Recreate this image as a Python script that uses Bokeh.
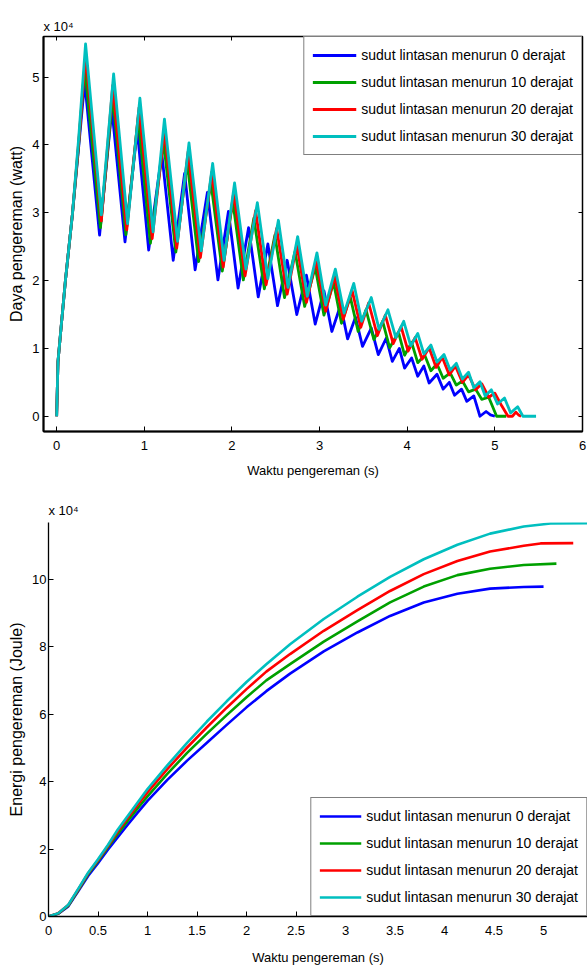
from bokeh.plotting import figure
from bokeh.models import Legend, LegendItem, LinearAxis, FixedTicker, Range1d
from bokeh.embed import file_html
from bokeh.resources import INLINE

FONT = "Liberation Sans"

series_labels = ["sudut lintasan menurun 0 derajat", "sudut lintasan menurun 10 derajat",
                 "sudut lintasan menurun 20 derajat", "sudut lintasan menurun 30 derajat"]
series_colors = ["#0000FF", "#00A000", "#FF0000", "#00BFBF"]

# ---- Top chart: braking power (x 10^4 watt) vs time (s) ----
power_t_0 = [0, 0.015, 0.05, 0.10, 0.18, 0.25, 0.32, 0.49, 0.63, 0.78, 0.92, 1.05, 1.20, 1.33, 1.46, 1.58, 1.72, 1.84,
             1.96, 2.07, 2.19, 2.30, 2.41, 2.52, 2.63, 2.74, 2.85, 2.95, 3.05, 3.14, 3.24, 3.32, 3.41, 3.49, 3.59, 3.67,
             3.76, 3.83, 3.91, 3.97, 4.05, 4.12, 4.19, 4.25, 4.34, 4.41, 4.48, 4.54, 4.62, 4.68, 4.76, 4.83, 4.90, 4.95, 5.00]
power_0 = [0, 0.80, 1.30, 2.00, 2.98, 3.95, 4.93, 2.67, 4.53, 2.57, 4.22, 2.45, 3.87, 2.30, 3.58, 2.16, 3.30, 2.01,
           3.02, 1.89, 2.78, 1.76, 2.54, 1.63, 2.30, 1.50, 2.08, 1.36, 1.85, 1.25, 1.64, 1.14, 1.46, 1.03, 1.30, 0.91,
           1.15, 0.81, 1.00, 0.71, 0.86, 0.59, 0.74, 0.49, 0.62, 0.40, 0.50, 0.31, 0.40, 0.22, 0.30, 0.0, 0.07, 0.02, 0.0]

power_t_10 = [0, 0.015, 0.05, 0.10, 0.18, 0.25, 0.32, 0.50, 0.64, 0.79, 0.93, 1.07, 1.22, 1.36, 1.49, 1.62, 1.76, 1.89,
              2.01, 2.13, 2.25, 2.37, 2.49, 2.60, 2.72, 2.83, 2.95, 3.05, 3.16, 3.25, 3.35, 3.44, 3.53, 3.62, 3.72, 3.80,
              3.90, 3.97, 4.05, 4.12, 4.20, 4.27, 4.34, 4.41, 4.49, 4.56, 4.63, 4.70, 4.78, 4.85, 4.93, 5.02, 5.13]
power_10 = [0, 0.80, 1.30, 2.00, 2.98, 3.98, 5.15, 2.78, 4.72, 2.68, 4.40, 2.55, 4.05, 2.42, 3.74, 2.28, 3.45, 2.14,
            3.17, 2.01, 2.92, 1.88, 2.67, 1.75, 2.43, 1.62, 2.20, 1.49, 1.97, 1.37, 1.76, 1.25, 1.57, 1.13, 1.40, 1.01,
            1.24, 0.90, 1.09, 0.79, 0.90, 0.67, 0.77, 0.56, 0.64, 0.46, 0.52, 0.36, 0.40, 0.25, 0.28, 0.0, 0.0]

power_t_20 = [0, 0.015, 0.05, 0.10, 0.18, 0.25, 0.33, 0.51, 0.64, 0.80, 0.94, 1.09, 1.23, 1.37, 1.50, 1.64, 1.77, 1.90,
              2.02, 2.15, 2.27, 2.39, 2.51, 2.63, 2.74, 2.85, 2.96, 3.07, 3.17, 3.27, 3.37, 3.47, 3.56, 3.66, 3.75, 3.84,
              3.93, 4.01, 4.09, 4.17, 4.25, 4.33, 4.40, 4.48, 4.55, 4.63, 4.70, 4.78, 4.85, 4.93, 5.00, 5.08, 5.15, 5.20,
              5.24, 5.27, 5.30]
power_20 = [0, 0.80, 1.30, 2.00, 2.98, 4.02, 5.32, 2.88, 4.88, 2.75, 4.55, 2.62, 4.22, 2.48, 3.90, 2.34, 3.60, 2.20,
            3.30, 2.07, 3.03, 1.94, 2.77, 1.80, 2.53, 1.68, 2.30, 1.55, 2.07, 1.43, 1.86, 1.31, 1.67, 1.19, 1.49, 1.07,
            1.32, 0.96, 1.16, 0.84, 1.01, 0.72, 0.87, 0.61, 0.74, 0.50, 0.61, 0.39, 0.48, 0.28, 0.34, 0.15, 0.0, 0.0,
            0.06, 0.02, 0.0]

power_t_30 = [0, 0.015, 0.05, 0.10, 0.18, 0.25, 0.33, 0.51, 0.65, 0.81, 0.95, 1.10, 1.23, 1.38, 1.51, 1.65, 1.78, 1.91,
              2.03, 2.16, 2.29, 2.41, 2.53, 2.64, 2.75, 2.86, 2.97, 3.07, 3.18, 3.28, 3.39, 3.48, 3.59, 3.68, 3.78, 3.87,
              3.96, 4.04, 4.12, 4.19, 4.27, 4.34, 4.42, 4.49, 4.56, 4.63, 4.70, 4.76, 4.83, 4.89, 4.96, 5.03, 5.11, 5.18,
              5.26, 5.32, 5.47]
power_30 = [0, 0.80, 1.30, 2.00, 2.98, 4.08, 5.49, 2.97, 5.05, 2.84, 4.69, 2.72, 4.38, 2.58, 4.03, 2.44, 3.73, 2.30,
            3.44, 2.17, 3.15, 2.03, 2.89, 1.90, 2.65, 1.77, 2.41, 1.64, 2.17, 1.52, 1.96, 1.40, 1.75, 1.28, 1.57, 1.16,
            1.40, 1.04, 1.22, 0.92, 1.05, 0.80, 0.91, 0.68, 0.78, 0.55, 0.65, 0.42, 0.51, 0.30, 0.39, 0.18, 0.27, 0.05,
            0.14, 0.0, 0.0]

power_x_ticks = [0, 1, 2, 3, 4, 5, 6]
power_y_ticks = [0, 1, 2, 3, 4, 5]

# ---- Bottom chart: braking energy (x 10^4 Joule) vs time (s) ----
energy_t_0 = [0, 0.1, 0.2, 0.3, 0.4, 0.5, 0.6, 0.7, 0.8, 0.9, 1.0, 1.2, 1.4, 1.6, 1.8, 2.0, 2.2, 2.44, 2.78, 3.12,
              3.45, 3.79, 4.13, 4.46, 4.80, 5.00]
energy_0 = [0, 0.08, 0.30, 0.75, 1.20, 1.58, 1.98, 2.35, 2.72, 3.08, 3.43, 4.05, 4.62, 5.15, 5.68, 6.20, 6.68, 7.20,
            7.86, 8.42, 8.91, 9.31, 9.57, 9.72, 9.77, 9.78]
energy_t_10 = [0, 0.1, 0.2, 0.3, 0.4, 0.5, 0.6, 0.7, 0.8, 0.9, 1.0, 1.2, 1.4, 1.6, 1.8, 2.0, 2.2, 2.44, 2.78, 3.12,
               3.45, 3.79, 4.13, 4.46, 4.80, 5.13]
energy_10 = [0, 0.09, 0.32, 0.78, 1.25, 1.64, 2.05, 2.45, 2.83, 3.20, 3.56, 4.23, 4.85, 5.42, 5.97, 6.50, 7.00, 7.48,
             8.15, 8.75, 9.31, 9.78, 10.12, 10.31, 10.42, 10.46]
energy_t_20 = [0, 0.1, 0.2, 0.3, 0.4, 0.5, 0.6, 0.7, 0.8, 0.9, 1.0, 1.2, 1.4, 1.6, 1.8, 2.0, 2.2, 2.44, 2.78, 3.12,
               3.45, 3.79, 4.13, 4.46, 4.80, 4.97, 5.30]
energy_20 = [0, 0.10, 0.34, 0.80, 1.28, 1.67, 2.09, 2.52, 2.92, 3.31, 3.68, 4.37, 5.01, 5.61, 6.19, 6.74, 7.26, 7.78,
             8.47, 9.08, 9.65, 10.15, 10.54, 10.82, 10.99, 11.06, 11.07]
energy_t_30 = [0, 0.1, 0.2, 0.3, 0.4, 0.5, 0.6, 0.7, 0.8, 0.9, 1.0, 1.2, 1.4, 1.6, 1.8, 2.0, 2.2, 2.44, 2.78, 3.12,
               3.45, 3.79, 4.13, 4.46, 4.80, 5.07, 5.47]
energy_30 = [0, 0.10, 0.35, 0.82, 1.30, 1.70, 2.12, 2.58, 2.98, 3.38, 3.78, 4.48, 5.15, 5.78, 6.38, 6.95, 7.48, 8.07,
             8.82, 9.48, 10.07, 10.59, 11.02, 11.35, 11.56, 11.65, 11.66]

energy_x_ticks = [0, 0.5, 1, 1.5, 2, 2.5, 3, 3.5, 4, 4.5, 5]
energy_x_tick_labels = ["0", "0.5", "1", "1.5", "2", "2.5", "3", "3.5", "4", "4.5", "5"]
energy_y_ticks = [0, 2, 4, 6, 8, 10]

scale_note = "x 10\u2074"


def style_axis(ax, ticks, line_width, standoff, label_size="13px", axis_label_size="13px", label_standoff=6):
    ax.ticker = FixedTicker(ticks=ticks)
    ax.axis_line_color = "black"
    ax.axis_line_width = line_width
    ax.major_tick_in = 5
    ax.major_tick_out = 0
    ax.major_tick_line_color = "black"
    ax.major_tick_line_width = 1
    ax.minor_tick_line_color = None
    ax.major_label_text_font = FONT
    ax.major_label_text_font_size = label_size
    ax.major_label_text_color = "black"
    ax.major_label_standoff = standoff
    ax.axis_label_text_font = FONT
    ax.axis_label_text_font_size = axis_label_size
    ax.axis_label_text_font_style = "normal"
    ax.axis_label_text_color = "black"
    ax.axis_label_standoff = label_standoff


def blank_axis(ticks):
    ax = LinearAxis(ticker=FixedTicker(ticks=ticks),
                    major_label_overrides={t: "" for t in ticks})
    ax.axis_line_color = None
    ax.major_tick_in = 4
    ax.major_tick_out = 0
    ax.major_tick_line_color = "black"
    ax.minor_tick_line_color = None
    ax.major_label_standoff = 0
    return ax


def make_legend(renderers, location, padding, glyph_width):
    items = [LegendItem(label=lab, renderers=[r]) for lab, r in zip(series_labels, renderers)]
    leg = Legend(items=items, location=location)
    leg.border_line_color = "black"
    leg.border_line_width = 1.5
    leg.background_fill_color = "white"
    leg.background_fill_alpha = 1.0
    leg.label_text_font = FONT
    leg.label_text_font_size = "14px"
    leg.label_text_color = "black"
    leg.glyph_width = glyph_width
    leg.glyph_height = 20
    leg.label_height = 20
    leg.label_standoff = 5
    leg.spacing = 7
    leg.padding = padding
    leg.margin = 0
    return leg


def style_title(p, standoff):
    p.title.text = scale_note
    p.title.text_font = FONT
    p.title.text_font_size = "13px"
    p.title.text_font_style = "normal"
    p.title.text_color = "black"
    p.title.align = "left"
    p.title.offset = 0
    p.title.standoff = standoff


# ---------- Figure 1 ----------
p1 = figure(width=587, height=480, x_range=Range1d(-0.15, 6.0), y_range=Range1d(-0.225, 5.6),
            output_backend="svg", toolbar_location=None,
            min_border_left=43, min_border_right=5, min_border_top=36, min_border_bottom=48)
p1.xgrid.visible = False
p1.ygrid.visible = False
p1.outline_line_color = "black"
p1.outline_line_width = 1.5
p1.background_fill_color = "white"
p1.border_fill_color = "white"
style_title(p1, 6)

style_axis(p1.xaxis[0], power_x_ticks, 2, 9, label_standoff=10)
style_axis(p1.yaxis[0], power_y_ticks, 2, 4, axis_label_size="16px", label_standoff=4)
p1.xaxis[0].axis_label = "Waktu pengereman (s)"
p1.yaxis[0].axis_label = "Daya pengereman (watt)"
p1.add_layout(blank_axis(power_x_ticks), "above")
p1.add_layout(blank_axis(power_y_ticks), "right")

power_series = [(power_t_0, power_0), (power_t_10, power_10), (power_t_20, power_20), (power_t_30, power_30)]
r1 = []
for (tt, pp), col in zip(power_series, series_colors):
    r1.append(p1.line(tt, pp, line_color=col, line_width=2.8, line_join="round"))
p1.add_layout(make_legend(r1, "top_right", 8, 44))

# ---------- Figure 2 ----------
p2 = figure(width=587, height=488, x_range=Range1d(0, 5.444), y_range=Range1d(0, 11.68),
            output_backend="svg", toolbar_location=None,
            min_border_left=48, min_border_right=0, min_border_top=42, min_border_bottom=52)
p2.xgrid.visible = False
p2.ygrid.visible = False
p2.outline_line_color = None
p2.background_fill_color = "white"
p2.border_fill_color = "white"
style_title(p2, 10)

style_axis(p2.xaxis[0], energy_x_ticks, 1.3, 9, label_standoff=12)
p2.xaxis[0].major_label_overrides = {t: s for t, s in zip(energy_x_ticks, energy_x_tick_labels)}
style_axis(p2.yaxis[0], energy_y_ticks, 1.3, 2, axis_label_size="16px", label_standoff=4)
p2.xaxis[0].axis_label = "Waktu pengereman (s)"
p2.yaxis[0].axis_label = "Energi pengereman (Joule)"

energy_series = [(energy_t_0, energy_0), (energy_t_10, energy_10), (energy_t_20, energy_20), (energy_t_30, energy_30)]
r2 = []
for (tt, ee), col in zip(energy_series, series_colors):
    r2.append(p2.line(tt, ee, line_color=col, line_width=2.6, line_join="round"))
p2.add_layout(make_legend(r2, "bottom_right", 8, 42))

open("out.html", "w").write(file_html([p1, p2], INLINE))
